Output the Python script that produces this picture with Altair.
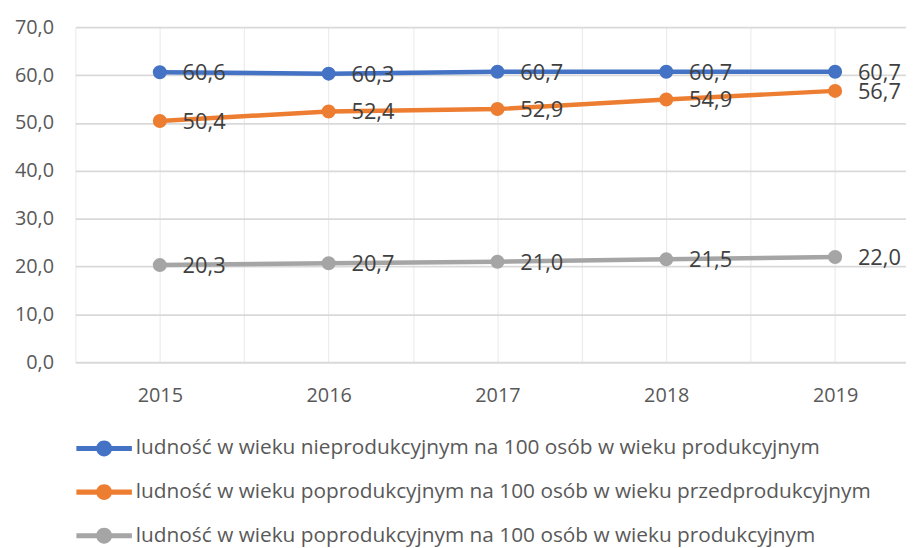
import altair as alt
import pandas as pd

years = [2015, 2016, 2017, 2018, 2019]
series = [
    "ludność w wieku nieprodukcyjnym na 100 osób w wieku produkcyjnym",
    "ludność w wieku poprodukcyjnym na 100 osób w wieku przedprodukcyjnym",
    "ludność w wieku poprodukcyjnym na 100 osób w wieku produkcyjnym",
]
v_nieprod = [60.6, 60.3, 60.7, 60.7, 60.7]
v_poprzed = [50.4, 52.4, 52.9, 54.9, 56.7]
v_poprod = [20.3, 20.7, 21.0, 21.5, 22.0]
colors = ["#4472C4", "#ED7D31", "#A5A5A5"]
y_ticks = [0, 10, 20, 30, 40, 50, 60, 70]
x_grid = [2014.5, 2015, 2015.5, 2016, 2016.5, 2017, 2017.5, 2018, 2018.5, 2019]

rows = []
for s, vals in zip(series, [v_nieprod, v_poprzed, v_poprod]):
    for y, v in zip(years, vals):
        rows.append({"year": y, "value": v, "series": s,
                     "label": f"{v:.1f}".replace(".", ",")})
df = pd.DataFrame(rows)

FONT = "Open Sans"
sym = ("M-1.75,-0.16H1.75V0.16H-1.75Z "
       "M0.5,0A0.5,0.5,0,1,1,-0.5,0A0.5,0.5,0,1,1,0.5,0Z")

x = alt.X("year:Q",
          scale=alt.Scale(domain=[2014.5, 2019.42], nice=False, zero=False),
          axis=alt.Axis(values=x_grid, title=None, domain=False, ticks=False,
                        labelExpr="datum.value % 1 == 0 ? '' + datum.value : ''",
                        labelFontSize=20, labelColor="#595959", labelFont=FONT,
                        labelPadding=24, gridColor="#ececec", gridWidth=1.2,
                        labelFlush=False))
y = alt.Y("value:Q",
          scale=alt.Scale(domain=[0, 70], nice=False),
          axis=alt.Axis(values=y_ticks, title=None, domain=False, ticks=False,
                        labelExpr="replace(format(datum.value, '.1f'), '.', ',')",
                        labelFontSize=20, labelColor="#595959", labelFont=FONT,
                        labelPadding=22, gridColor="#d9d9d9", gridWidth=1.8))
color = alt.Color("series:N",
                  scale=alt.Scale(domain=series, range=colors),
                  legend=alt.Legend(orient="none", legendX=13, legendY=409,
                                    direction="vertical", title=None,
                                    symbolType=sym, symbolSize=1024,
                                    symbolStrokeWidth=0, symbolOpacity=1,
                                    labelFontSize=21, labelFont=FONT,
                                    labelColor="#595959", labelOffset=16,
                                    rowPadding=18, labelLimit=900))

base = alt.Chart(df)
lines = base.mark_line(strokeWidth=4.5).encode(x=x, y=y, color=color)
points = base.mark_point(filled=True, size=200, opacity=1).encode(
    x=x, y=y, color=color,
    fill=alt.Fill("series:N", scale=alt.Scale(domain=series, range=colors), legend=None))
labels = base.mark_text(align="left", baseline="middle", dx=23, dy=1,
                        fontSize=22, font=FONT, color="#404040").encode(
    x=x, y=y, text="label:N")

chart = (lines + points + labels).properties(
    width=838, height=338,
    autosize=alt.AutoSizeParams(type="none"),
    padding={"left": 68, "top": 17, "right": 0, "bottom": 185},
).configure_view(stroke=None).resolve_scale(color="shared")

chart.save("out.html", embed_options={"renderer": "svg", "actions": False})
